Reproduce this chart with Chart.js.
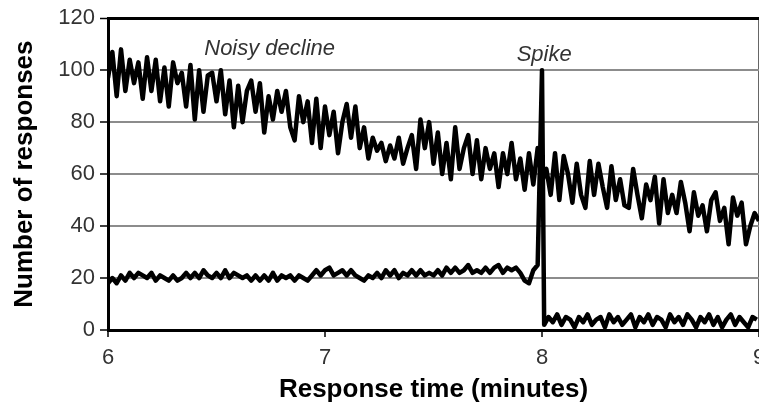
<!DOCTYPE html>
<html>
<head>
<meta charset="utf-8">
<script src="https://cdn.jsdelivr.net/npm/chart.js@4/dist/chart.umd.min.js"></script>
<style>
  html, body { margin: 0; padding: 0; background: #fff; overflow: hidden; width: 759px; height: 416px; }
  canvas { display: block; }
</style>
</head>
<body>
<canvas id="c" width="800" height="416"></canvas>
<script>
// ---- Data ----
const xTickValues = [6, 7, 8, 9];
const yTickValues = [0, 20, 40, 60, 80, 100, 120];

// Sampling grid: minutes, 0.02 min apart
const gridStart = 6.0;
const gridStep = 0.02;

// Series 1: "Noisy decline", samples from 6.00 to 9.00
const declineValues = [
  97, 107, 90, 108, 92, 104, 95, 103, 89, 105,
  92, 104, 88, 101, 86, 103, 95, 99, 86, 102,
  81, 100, 84, 98, 99, 88, 100, 83, 96, 78,
  94, 80, 92, 96, 84, 95, 76, 90, 81, 92,
  84, 92, 78, 73, 90, 80, 88, 72, 89, 70,
  86, 75, 84, 68, 80, 87, 74, 86, 70, 78,
  66, 74, 69, 72, 65, 71, 66, 74, 64, 70,
  75, 62, 81, 70, 80, 64, 76, 60, 72, 58,
  78, 62, 70, 75, 60, 73, 58, 70, 62, 68,
  55, 68, 60, 72, 58, 66, 54, 68, 56, 70,
  57, 62, 52, 68, 50, 67, 60, 49, 64, 52,
  47, 65, 52, 64, 55, 47, 63, 50, 58, 48,
  47, 62, 52, 43, 56, 50, 59, 41, 58, 45,
  52, 45, 57, 49, 38, 53, 44, 48, 38, 50,
  53, 42, 47, 33, 51, 44, 49, 33, 40, 45,
  42
];

// Series 2: baseline with a spike at 8 minutes
const baselineBefore = [ // 6.00 .. 7.98
  18, 20, 18, 21, 19,
  22, 20, 22, 21, 20, 22, 19, 21, 20, 19, 21, 19, 20,
  22, 20, 22, 20, 23, 21, 20, 22, 20, 23, 20, 22, 21, 20,
  21, 19, 21, 19, 21, 19, 22, 19, 21, 20, 21, 19, 21, 20, 19, 21,
  23, 21, 23, 24, 21, 22, 23, 21, 23, 21, 20, 19,
  21, 20, 22, 20, 23, 21, 23, 20, 22, 21, 23, 21, 23, 21, 22, 21, 23,
  21, 24, 22, 24, 22, 23, 25, 22, 23, 22, 24, 22, 24, 25, 22, 24, 23, 24, 22,
  19, 18, 23, 25
];
const spikeTime = 8.0;
const spikePeak = 100;
const afterStart = 8.01;
const baselineAfter = [ // 8.01 .. 8.99
  2, 5, 3, 6, 2, 5, 4, 1, 5, 3, 6, 2, 4, 5, 1, 6, 3, 5, 2, 4,
  6, 1, 5, 3, 6, 2, 5, 4, 1, 6, 3, 5, 2, 6, 4, 1, 5, 3, 6, 2,
  5, 1, 4, 6, 2, 5, 3, 1, 5, 4
];

const annotations = [
  { text: 'Noisy decline', x: 6.745, y: 106 },
  { text: 'Spike', x: 8.01, y: 103.6 }
];

// ---- Build library data ----
const t = (start, i) => Math.round((start + i * gridStep) * 1000) / 1000;
const declineData = declineValues.map((v, i) => ({ x: t(gridStart, i), y: v }));
const baselineData = baselineBefore.map((v, i) => ({ x: t(gridStart, i), y: v }))
  .concat([{ x: spikeTime, y: spikePeak }])
  .concat(baselineAfter.map((v, i) => ({ x: t(afterStart, i), y: v })));

const FONT = '"Liberation Sans", Arial, Helvetica, sans-serif';

const annotationPlugin = {
  id: 'textNotes',
  afterDatasetsDraw(chart) {
    const { ctx, scales } = chart;
    ctx.save();
    ctx.font = 'italic 22px ' + FONT;
    ctx.fillStyle = '#333';
    ctx.textAlign = 'center';
    ctx.textBaseline = 'alphabetic';
    annotations.forEach(a => {
      ctx.fillText(a.text, scales.x.getPixelForValue(a.x), scales.y.getPixelForValue(a.y));
    });
    ctx.restore();
  }
};

const lineStyle = { borderColor: '#000', borderWidth: 4.5, pointRadius: 0, tension: 0, fill: false, borderJoinStyle: 'round', borderCapStyle: 'butt' };

new Chart(document.getElementById('c'), {
  type: 'line',
  data: {
    datasets: [
      Object.assign({ label: 'Noisy decline', data: declineData }, lineStyle),
      Object.assign({ label: 'Spike', data: baselineData }, lineStyle)
    ]
  },
  options: {
    responsive: false,
    animation: false,
    devicePixelRatio: 1,
    layout: { padding: { top: 18, right: 41, left: 0, bottom: 0 } },
    plugins: { legend: { display: false }, tooltip: { enabled: false } },
    scales: {
      x: {
        type: 'linear',
        min: 6, max: 9,
        afterBuildTicks(scale) { scale.ticks = xTickValues.map(v => ({ value: v })); },
        afterFit(scale) { scale.height = 86; },
        border: { display: true, color: '#000', width: 3 },
        grid: {
          drawOnChartArea: true,
          color: ctx => (ctx.tick && ctx.tick.value === 9) ? '#666' : 'rgba(0,0,0,0)',
          lineWidth: 2,
          tickColor: '#000',
          tickLength: 7,
          tickWidth: 1.5
        },
        ticks: {
          font: { family: FONT, size: 22 },
          color: '#333',
          padding: 8,
          maxRotation: 0,
          callback: v => String(v)
        },
        title: {
          display: true,
          text: 'Response time (minutes)',
          font: { family: FONT, size: 26, weight: 'bold' },
          color: '#000',
          padding: { top: 0, bottom: 11 }
        }
      },
      y: {
        min: 0, max: 120,
        afterBuildTicks(scale) { scale.ticks = yTickValues.map(v => ({ value: v })); },
        afterFit(scale) { scale.width = 108; },
        border: { display: true, color: '#000', width: 3 },
        grid: {
          color: ctx => (ctx.tick && ctx.tick.value === 120) ? '#000' : '#8c8c8c',
          lineWidth: ctx => (ctx.tick && ctx.tick.value === 120) ? 3 : 2,
          tickColor: '#000',
          tickLength: 8,
          tickWidth: 1.5
        },
        ticks: {
          font: { family: FONT, size: 22 },
          color: '#333',
          padding: 5
        },
        title: {
          display: true,
          text: 'Number of responses',
          font: { family: FONT, size: 26, weight: 'bold' },
          color: '#000',
          padding: { top: 9, bottom: 0 }
        }
      }
    }
  },
  plugins: [annotationPlugin]
});
</script>
</body>
</html>
